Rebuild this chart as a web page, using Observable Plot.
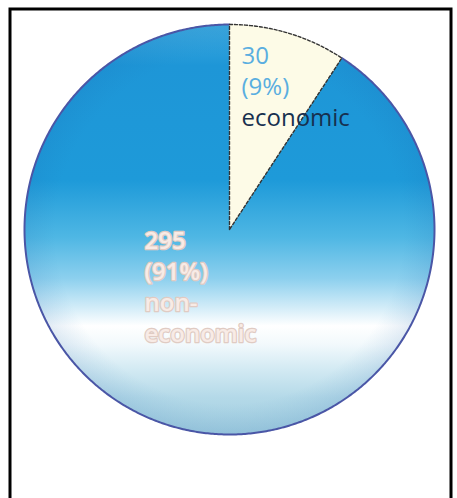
<!DOCTYPE html>
<html><head><meta charset="utf-8">
<script src="https://cdn.jsdelivr.net/npm/d3@7"></script>
<script src="https://cdn.jsdelivr.net/npm/@observablehq/plot@0.6"></script>
<style>body{margin:0;background:#fff}#chart svg{display:block}</style>
</head><body><div id="chart"></div>
<script>
// ---- data ----
const categories = ["economic", "non-economic"];
const counts = [30, 295];
const percentLabels = ["9%", "91%"];
const nameLines = [["economic"], ["non-", "economic"]];

// ---- layout ----
const W = 457, H = 498, cx = 229, cy = 229, R = 205;

const rows = categories.map((c, i) => ({category: c, count: counts[i], pct: percentLabels[i], lines: nameLines[i]}));
const arcs = d3.pie().sort(null).value(d => d.count)(rows);

function slicePoints(a, withCenter) {
  const pts = [];
  if (withCenter) pts.push({x: 0, y: 0, k: a.data.category});
  const n = Math.max(2, Math.ceil((a.endAngle - a.startAngle) / (Math.PI / 360)));
  for (let i = 0; i <= n; i++) {
    const t = a.startAngle + (a.endAngle - a.startAngle) * i / n;
    pts.push({x: Math.sin(t), y: Math.cos(t), k: a.data.category});
  }
  return pts;
}
const ecoArc = arcs[0], nonArc = arcs[1];
const ecoPts = slicePoints(ecoArc, true);
const nonPts = slicePoints(nonArc, true);
const rimPts = slicePoints(nonArc, false);

const defs = () => {
  const d = d3.create("svg:defs");
  const g = d.append("linearGradient").attr("id", "pieGrad").attr("x1", 0).attr("y1", 0).attr("x2", 0).attr("y2", 1);
  [[0, "#3eabe0"], [0.1, "#1e96d7"], [0.38, "#1e9ad9"], [0.52, "#4fb7e4"], [0.62, "#8dd0ee"], [0.69, "#d2ecf8"],
   [0.735, "#ffffff"], [0.78, "#f2f9fc"], [0.84, "#d3eaf3"], [0.91, "#b4d9e8"], [1, "#a2cee0"]]
    .forEach(([o, c]) => g.append("stop").attr("offset", o).attr("stop-color", c));
  const r = d.append("radialGradient").attr("id", "vign").attr("cx", 0.5).attr("cy", 0.5).attr("r", 0.5);
  [[0, "#1a6fb0", 0], [0.85, "#1a6fb0", 0], [1, "#1a5fa8", 0.12]]
    .forEach(([o, c, op]) => r.append("stop").attr("offset", o).attr("stop-color", c).attr("stop-opacity", op));
  return d.node();
};

const fs = 24, lh = 1.3;
const px = (v) => (v - cx) / R;   // pixel-layout helpers for label anchors
const py = (v) => (cy - v) / R;

const chart = Plot.plot({
  width: W, height: H,
  margin: 0,
  x: {domain: [-cx / R, (W - cx) / R], range: [0, W], axis: null},
  y: {domain: [cy / R, (cy - H) / R], range: [0, H], axis: null},
  style: {fontFamily: "'Open Sans', sans-serif", background: "#fff"},
  marks: [
    defs,
    Plot.line(nonPts, {x: "x", y: "y", curve: "linear-closed", fill: "url(#pieGrad)", stroke: "none"}),
    Plot.line(nonPts, {x: "x", y: "y", curve: "linear-closed", fill: "url(#vign)", stroke: "none"}),
    Plot.line(rimPts, {x: "x", y: "y", stroke: "#4a56a6", strokeWidth: 2}),
    Plot.line(ecoPts, {x: "x", y: "y", curve: "linear-closed", fill: "#fdfbe7", stroke: "#333", strokeWidth: 1.4, strokeDasharray: "3,2"}),
    Plot.text([ecoArc], {x: () => px(241), y: () => py(41), text: d => `${d.data.count}\n(${d.data.pct})`,
      textAnchor: "start", lineAnchor: "top", lineHeight: lh, fontSize: fs, fill: "#5aaee0"}),
    Plot.text([ecoArc], {x: () => px(241), y: () => py(41), dy: 2 * lh * fs, text: d => d.data.lines.join("\n"),
      textAnchor: "start", lineAnchor: "top", lineHeight: lh, fontSize: fs, fill: "#17304f"}),
    Plot.text([nonArc], {x: () => px(144), y: () => py(226), text: d => [String(d.data.count), `(${d.data.pct})`, ...d.data.lines].join("\n"),
      textAnchor: "start", lineAnchor: "top", lineHeight: lh, fontSize: fs, fontWeight: 600, fill: "#f8ebe6",
      stroke: "#e0cbc3", strokeWidth: 2.5, paintOrder: "stroke"}),
    Plot.frame({stroke: "#000", strokeWidth: 3, insetLeft: 9.5, insetTop: 8.5, insetRight: 6.5, insetBottom: -10})
  ]
});
document.getElementById("chart").append(chart);
</script>
</body></html>
